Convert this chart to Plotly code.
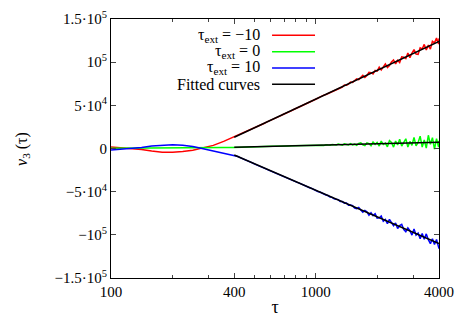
import plotly.graph_objects as go

# tau values: smooth part 100..400, then the noisy part 400..4000
tau = [100, 112, 126, 141, 158, 178, 200, 224, 251, 282, 316, 355, 398,
       407, 417, 427, 437, 447, 457, 468, 479, 490, 501,
       513, 525, 537, 550, 562, 575, 589, 603, 617, 631,
       646, 661, 676, 692, 708, 724, 741, 759, 776, 794,
       813, 832, 851, 871, 891, 912, 933, 955, 977, 1000,
       1023, 1047, 1072, 1096, 1122, 1148, 1175, 1202, 1230, 1259,
       1288, 1318, 1349, 1380, 1413, 1445, 1479, 1514, 1549, 1585,
       1622, 1660, 1698, 1738, 1778, 1820, 1862, 1905, 1950, 1995,
       2042, 2089, 2138, 2188, 2239, 2291, 2344, 2399, 2455, 2512,
       2570, 2630, 2692, 2754, 2818, 2884, 2951, 3020, 3090, 3162,
       3236, 3311, 3388, 3467, 3548, 3631, 3715, 3802, 3890, 3981,
       4000]

# v3 in units of 1000
v3_m10 = [1.8, 1.0, 0.3, -1.3, -3.0, -4.3, -4.3, -3.6, -2.0, 0.5, 3.6, 8.2, 13.4,
          14.0, 15.0, 16.0, 17.3, 18.2, 19.4, 20.6, 21.5, 22.7, 23.9,
          24.8, 26.0, 27.2, 28.1, 29.3, 30.5, 31.5, 32.6, 33.9, 34.8,
          36.0, 37.2, 38.1, 39.4, 40.3, 41.6, 42.7, 43.6, 44.9, 45.8,
          47.0, 48.2, 49.2, 50.4, 51.4, 52.6, 53.6, 54.8, 55.9, 57.0,
          58.2, 59.6, 60.3, 61.8, 62.6, 63.7, 65.2, 65.8, 67.4, 68.0,
          69.9, 70.1, 71.2, 73.6, 73.3, 74.6, 77.0, 76.6, 79.1, 80.6,
          79.8, 82.0, 84.7, 82.4, 84.6, 88.3, 87.8, 86.3, 90.4, 89.6,
          94.2, 90.9, 94.0, 98.0, 93.7, 96.2, 100.1, 102.5, 97.9, 102.1,
          99.5, 106.2, 105.7, 104.1, 110.7, 105.3, 110.6, 114.5, 109.4, 109.1,
          116.6, 115.3, 120.6, 114.0, 119.7, 115.1, 124.2, 122.5, 127.9, 121.0,
          127.5]

v3_0 = [0.3, 0.3, 0.3, 0.4, 0.4, 0.5, 0.5, 0.6, 0.7, 0.8, 0.9, 1.1, 1.3,
        1.4, 1.5, 1.6, 1.5, 1.7, 1.7, 1.8, 1.8, 1.9, 1.9,
        2.0, 2.1, 2.0, 2.2, 2.3, 2.2, 2.4, 2.4, 2.6, 2.5,
        2.7, 2.6, 2.8, 2.8, 2.9, 3.0, 3.0, 3.1, 3.2, 3.1,
        3.3, 3.3, 3.4, 3.5, 3.4, 3.6, 3.6, 3.7, 3.7, 3.9,
        3.5, 4.2, 3.8, 3.6, 4.4, 4.0, 3.7, 4.6, 3.9, 4.0,
        5.1, 4.4, 3.9, 5.3, 4.6, 4.2, 5.6, 4.1, 5.0, 3.7,
        5.8, 6.6, 4.2, 3.3, 6.5, 5.7, 3.3, 7.6, 4.8, 7.0,
        2.9, 8.5, 4.6, 6.3, 2.0, 9.2, 6.9, 1.6, 8.6, 4.1,
        10.7, 2.8, 7.0, 11.3, 1.6, 8.2, 3.7, 12.7, 3.0, 7.0,
        14.3, 1.6, 9.8, 0.5, 15.3, 4.8, 12.6, -0.7, 11.4, 1.6,
        9.0]

v3_p10 = [-1.8, -0.9, -0.3, 1.3, 2.9, 4.0, 4.4, 3.8, 2.4, -0.3, -2.8, -5.5, -8.2,
          -8.5, -9.3, -10.5, -11.4, -12.6, -13.5, -14.6, -15.7, -16.6, -17.8,
          -18.7, -19.8, -20.9, -21.8, -23.0, -23.9, -25.0, -26.1, -27.0, -28.2,
          -29.0, -30.1, -31.1, -32.2, -33.1, -34.2, -35.1, -36.3, -37.1, -38.3,
          -39.2, -40.1, -41.3, -42.1, -43.3, -44.1, -45.4, -46.2, -47.6, -48.4,
          -49.8, -50.4, -51.9, -52.5, -53.9, -54.5, -56.3, -56.6, -58.3, -58.9,
          -59.2, -61.4, -61.5, -63.3, -63.1, -65.6, -65.4, -66.2, -68.9, -69.7,
          -68.4, -71.1, -73.7, -71.8, -73.3, -77.3, -74.5, -77.7, -75.6, -80.7,
          -80.4, -78.3, -84.2, -82.2, -87.1, -82.0, -85.7, -89.5, -86.3, -92.7,
          -89.2, -87.8, -93.8, -96.4, -91.9, -95.2, -100.3, -93.3, -100.3, -98.0,
          -104.6, -98.6, -105.2, -98.9, -105.6, -110.2, -104.5, -111.1, -105.4, -114.4,
          -116.0]

# fitted curves
tau_fit = [400, 1000, 4000]
fit_m10 = [13.0, 57.0, 124.0]
fit_0 = [1.4, 3.7, 7.2]
fit_p10 = [-7.6, -48.4, -110.0]

legend_labels = ["τ<sub>ext</sub> = −10", "τ<sub>ext</sub> = 0", "τ<sub>ext</sub> = 10", "Fitted curves"]
legend_colors = ["#ff0000", "#00ff00", "#0000ff", "#000000"]

ytick_vals = [-150000, -100000, -50000, 0, 50000, 100000, 150000]
ytick_text = ["−1.5·10<sup>5</sup>", "−10<sup>5</sup>", "−5·10<sup>4</sup>", "0",
              "5·10<sup>4</sup>", "10<sup>5</sup>", "1.5·10<sup>5</sup>"]
xtick_vals = [100, 400, 1000, 4000]
xminor_vals = [200, 300, 500, 600, 700, 800, 900, 2000, 3000]

font = "Liberation Serif"

fig = go.Figure()
for vals, col in zip([v3_m10, v3_0, v3_p10], legend_colors[:3]):
    fig.add_trace(go.Scatter(x=tau, y=[v * 1000 for v in vals], mode="lines",
                             line=dict(color=col, width=1.5), showlegend=False))
for vals in [fit_m10, fit_0, fit_p10]:
    fig.add_trace(go.Scatter(x=tau_fit, y=[v * 1000 for v in vals], mode="lines",
                             line=dict(color="black", width=1.5), showlegend=False))

# gnuplot-like key: text right aligned, sample line on the right
key_y = [0.937, 0.874, 0.811, 0.748]
for lab, col, yy in zip(legend_labels, legend_colors, key_y):
    fig.add_annotation(x=0.46, y=yy, xref="paper", yref="paper", text=lab, showarrow=False,
                       xanchor="right", yanchor="middle", font=dict(family=font, size=16, color="black"))
    fig.add_shape(type="line", xref="paper", yref="paper", x0=0.491, x1=0.622, y0=yy, y1=yy,
                  line=dict(color=col, width=1.5))

# y axis title as a rotated annotation (placed further left than plotly allows)
fig.add_annotation(x=-0.27, y=0.5, xref="paper", yref="paper", text="<i>v</i><sub>3</sub> (τ)",
                   showarrow=False, textangle=-90, xanchor="center", yanchor="middle",
                   font=dict(family=font, size=16, color="black"))

# page has an 8px body margin, so the figure is 8px smaller and margins shifted
fig.update_layout(
    width=459, height=319,
    margin=dict(l=103, r=28, t=11, b=49),
    plot_bgcolor="white", paper_bgcolor="white",
    font=dict(family=font, size=15, color="black"),
    showlegend=False,
)
fig.update_xaxes(type="log", range=[2, 3.60206], tickvals=xtick_vals, ticktext=[str(v) for v in xtick_vals],
                 ticks="inside", ticklen=5, mirror="allticks", showline=True, linecolor="black", linewidth=1,
                 showgrid=False, zeroline=False, automargin=False,
                 minor=dict(ticks="inside", ticklen=3, tickvals=xminor_vals, showgrid=False),
                 title=dict(text="τ", standoff=1))
fig.update_yaxes(range=[-150000, 150000], tickvals=ytick_vals, ticktext=ytick_text,
                 ticks="inside", ticklen=5, mirror="allticks", showline=True, linecolor="black", linewidth=1,
                 showgrid=False, zeroline=False, automargin=False)

fig.write_html("out.html")
